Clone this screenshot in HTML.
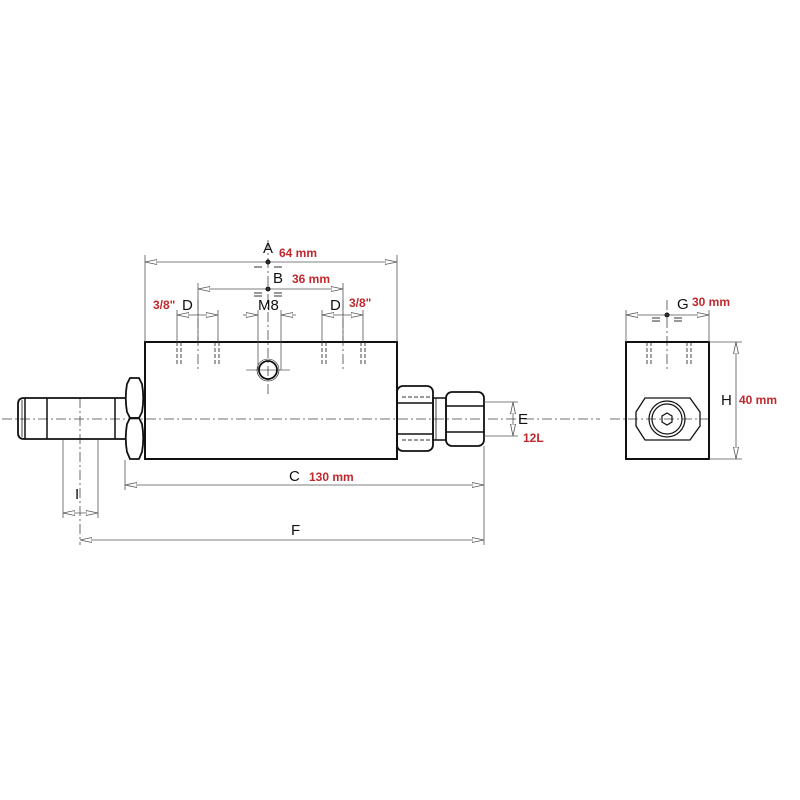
<!DOCTYPE html>
<html><head><meta charset="utf-8"><style>
html,body{margin:0;padding:0;background:#fff;}
svg{display:block;}
text{font-family:"Liberation Sans",sans-serif;}
.k{font-size:15px;fill:#111;}
.r{font-size:12px;fill:#c0282d;font-weight:bold;}
</style></head><body>
<svg width="800" height="800" viewBox="0 0 800 800">
<defs>
<marker id="a" viewBox="0 0 12 6" refX="12" refY="3" markerWidth="12" markerHeight="6" orient="auto-start-reverse" markerUnits="userSpaceOnUse">
<path d="M0,0.5 L12,3 L0,5.5 Z" fill="#fff" stroke="#555" stroke-width="0.8"/></marker>
</defs>
<g stroke="#111" fill="none">
<g stroke="#444" stroke-width="0.8" stroke-dasharray="10,3,2,3">
<line x1="2" y1="419" x2="600" y2="419"/>
<line x1="268" y1="240" x2="268" y2="395"/>
<line x1="198" y1="300" x2="198" y2="370"/>
<line x1="343" y1="300" x2="343" y2="370"/>
<line x1="80" y1="398" x2="80" y2="545"/>
<line x1="667" y1="300" x2="667" y2="370"/>
<line x1="610" y1="419" x2="712" y2="419"/>
</g>
<rect x="145" y="342" width="252" height="117" stroke-width="2"/>
<g stroke="#333" stroke-width="0.9" stroke-dasharray="4,2">
<path d="M177,342V366M181,342V366M215,342V366M219,342V366M322,342V366M326,342V366M361,342V366M365,342V366"/>
<path d="M647,342V366M651,342V366M687,342V366M691,342V366"/>
<path d="M402,397H430M402,440H430"/>
</g>
<circle cx="268" cy="370" r="9" stroke-width="1.8"/>
<circle cx="268" cy="370" r="11" stroke-width="0.6"/>
<line x1="246" y1="370" x2="290" y2="370" stroke-width="0.6"/>
<!-- left hex: two lobes -->
<path d="M130,378 H139 L142,384 Q144.5,398 142,412 L139,418 H130 L127,412 Q124.5,398 127,384 Z" stroke-width="1.8"/>
<path d="M130,418 H139 L142,424 Q144.5,438 142,452 L139,459 H130 L127,452 Q124.5,438 127,424 Z" stroke-width="1.8"/>
<path d="M125,398 H24 Q18,398 18,404 V433 Q18,439 24,439 H125" stroke-width="1.8"/>
<line x1="25" y1="398" x2="25" y2="439" stroke-width="1.5"/>
<line x1="22" y1="400" x2="22" y2="437" stroke-width="0.8"/>
<line x1="47" y1="398" x2="47" y2="439" stroke-width="1.5"/>
<line x1="115" y1="398" x2="115" y2="439" stroke-width="1.5"/>
<rect x="397" y="386" width="36" height="65" rx="6" stroke-width="1.8"/>
<line x1="397" y1="403" x2="433" y2="403" stroke-width="1.5"/>
<line x1="397" y1="434" x2="433" y2="434" stroke-width="1.5"/>
<rect x="433" y="398" width="13" height="42" stroke-width="1.5"/>
<line x1="436" y1="398" x2="436" y2="440" stroke-width="0.8"/>
<rect x="446" y="392" width="38" height="54" rx="6" stroke-width="1.8"/>
<line x1="446" y1="406" x2="484" y2="406" stroke-width="1.5"/>
<line x1="446" y1="432" x2="484" y2="432" stroke-width="1.5"/>
<rect x="626" y="342" width="83" height="117" stroke-width="2"/>
<path d="M645,398 H690 L700,412 V426 L690,440 H645 L636,426 V412 Z" stroke-width="1.3"/>
<circle cx="667" cy="419" r="18" stroke-width="1.2"/>
<circle cx="667" cy="419" r="15" stroke-width="1.2"/>
<path d="M667,413 L672,416 V422 L667,425 L662,422 V416 Z" stroke-width="1.2"/>
<g stroke="#555" stroke-width="0.8">
<path d="M145,255V342M397,255V342"/>
<line x1="145" y1="262" x2="397" y2="262" marker-start="url(#a)" marker-end="url(#a)"/>
<path d="M198,283V342M343,283V342"/>
<line x1="198" y1="289" x2="343" y2="289" marker-start="url(#a)" marker-end="url(#a)"/>
<path d="M177,310V342M218,310V342M322,310V342M363,310V342M258,310V370M281,310V370"/>
<line x1="177" y1="315" x2="218" y2="315" marker-start="url(#a)" marker-end="url(#a)"/>
<line x1="322" y1="315" x2="363" y2="315" marker-start="url(#a)" marker-end="url(#a)"/>
<line x1="243" y1="315" x2="258" y2="315" marker-end="url(#a)"/>
<line x1="296" y1="315" x2="281" y2="315" marker-end="url(#a)"/>
<path d="M125,460V490M484,446V545"/>
<line x1="125" y1="485" x2="484" y2="485" marker-start="url(#a)" marker-end="url(#a)"/>
<line x1="80" y1="540" x2="484" y2="540" marker-start="url(#a)" marker-end="url(#a)"/>
<path d="M63,440V518M98,440V518"/>
<line x1="63" y1="513" x2="80" y2="513" marker-start="url(#a)"/>
<line x1="80" y1="513" x2="98" y2="513" marker-end="url(#a)"/>
<path d="M484,402H518M484,436H518"/>
<line x1="513" y1="402" x2="513" y2="419" marker-start="url(#a)"/>
<line x1="513" y1="419" x2="513" y2="436" marker-end="url(#a)"/>
<path d="M626,310V342M709,310V342"/>
<line x1="626" y1="315" x2="709" y2="315" marker-start="url(#a)" marker-end="url(#a)"/>
<path d="M709,342H742M709,459H742"/>
<line x1="736" y1="342" x2="736" y2="459" marker-start="url(#a)" marker-end="url(#a)"/>
</g>
<g stroke="#333" stroke-width="1"><path d="M254,267H262M274,267H282M254,293H262M274,293H282M254,296H262M274,296H282M652,318H660M674,318H682M652,321H660M674,321H682"/></g>
<circle cx="268" cy="262" r="2" fill="#333"/><circle cx="268" cy="289" r="2" fill="#333"/><circle cx="667" cy="315" r="2" fill="#333"/>
</g>
<text class="k" x="263" y="253">A</text><text class="r" x="279" y="257">64 mm</text>
<text class="k" x="273" y="283">B</text><text class="r" x="292" y="283">36 mm</text>
<text class="r" x="153" y="309">3/8"</text><text class="k" x="182" y="310">D</text>
<text class="k" x="258" y="310">M8</text>
<text class="k" x="330" y="310">D</text><text class="r" x="349" y="307">3/8"</text>
<text class="k" x="289" y="481">C</text><text class="r" x="309" y="481">130 mm</text>
<text class="k" x="291" y="535">F</text>
<text class="k" x="75" y="499">I</text>
<text class="k" x="518" y="424">E</text><text class="r" x="523" y="442">12L</text>
<text class="k" x="677" y="309">G</text><text class="r" x="692" y="306">30 mm</text>
<text class="k" x="721" y="405">H</text><text class="r" x="739" y="404">40 mm</text>
</svg>
</body></html>
